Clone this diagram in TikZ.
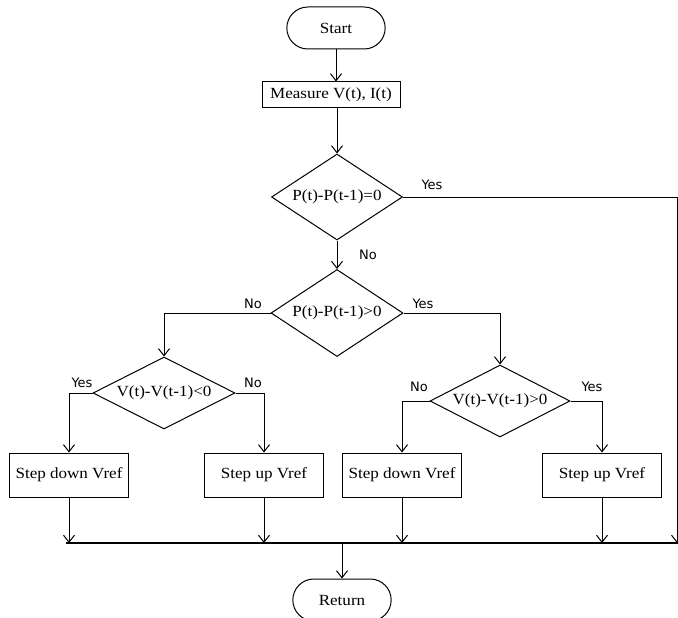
\documentclass[tikz,border=0pt]{standalone}
\usepackage{fontspec}
\setmainfont{Liberation Serif}[FakeStretch=1.1]
\newfontfamily\lblfont{DejaVu Sans}
\usetikzlibrary{shapes.geometric,shapes.misc,arrows.meta}
\begin{document}
\begin{tikzpicture}[x=1pt,y=-1pt, line width=1pt,
  every node/.style={font=\fontsize{15.5}{17}\selectfont},
  term/.style={draw, rounded rectangle, minimum width=105pt, minimum height=42pt},
  proc/.style={draw, rectangle, minimum width=119pt, minimum height=44pt, inner sep=1pt},
  dec/.style={draw, diamond, inner sep=0pt, minimum width=140pt, minimum height=72pt, shape aspect=1.9},
  lbl/.style={font=\lblfont\fontsize{13}{15}\selectfont, inner sep=0pt},
  arr/.style={-{Straight Barb[length=7pt,width=11pt]}}
]
\useasboundingbox (0,0) rectangle (678,618);

\node[term] (start) at (336,28) {Start};
\node[draw, minimum width=138pt, minimum height=26pt, inner sep=1pt] (meas) at (331,95) {Measure V(t), I(t)};
\node[dec, minimum width=131pt, minimum height=86pt, shape aspect=1.5] (d1) at (337,197) {P(t)-P(t-1)=0};
\node[dec, minimum width=132pt, minimum height=87pt, shape aspect=1.5] (d2) at (337,313) {P(t)-P(t-1)>0};
\node[dec, minimum width=142pt, minimum height=72pt] (d3) at (164,393) {V(t)-V(t-1)<0};
\node[dec] (d4) at (500,401) {V(t)-V(t-1)>0};
\node[proc] (b1) at (69,475) {Step down Vref};
\node[proc] (b2) at (264,475) {Step up Vref};
\node[proc] (b3) at (402,475) {Step down Vref};
\node[proc] (b4) at (602,475) {Step up Vref};
\node[term] (ret) at (342,600) {Return};

\coordinate (r) at (677,197);
\coordinate (busL) at (66,543);
\coordinate (busR) at (678,543);

\draw[arr] (start.south) -- (start.south |- meas.north);
\draw[arr] (meas.south -| d1.north) -- (d1.north);
\draw (d1.east) -- (r);
\draw[arr] (r) -- (r |- busL);
\draw[arr] (d1.south) -- (d2.north);
\draw[arr] (d2.west) -| (d3.north);
\draw[arr] (d2.east) -| (d4.north);
\draw[arr] (d3.west) -| (b1.north);
\draw[arr] (d3.east) -| (b2.north);
\draw[arr] (d4.west) -| (b3.north);
\draw[arr] (d4.east) -| (b4.north);
\draw[arr] (b1.south) -- (b1.south |- busL);
\draw[arr] (b2.south) -- (b2.south |- busL);
\draw[arr] (b3.south) -- (b3.south |- busL);
\draw[arr] (b4.south) -- (b4.south |- busL);
\draw[line width=1.3pt] (busL) -- (busR);
\draw[arr] (ret.north |- busL) -- (ret.north);

\node[lbl] (y1) at (432,185) {Yes};
\node[lbl] (n1) at (368,255) {No};
\node[lbl] (n2) at (253,304) {No};
\node[lbl] (y2) at (423,304) {Yes};
\node[lbl] (y3) at (82,383) {Yes};
\node[lbl] (n3) at (253,383) {No};
\node[lbl] (n4) at (419,387) {No};
\node[lbl] (y4) at (592,387) {Yes};
\end{tikzpicture}
\end{document}
